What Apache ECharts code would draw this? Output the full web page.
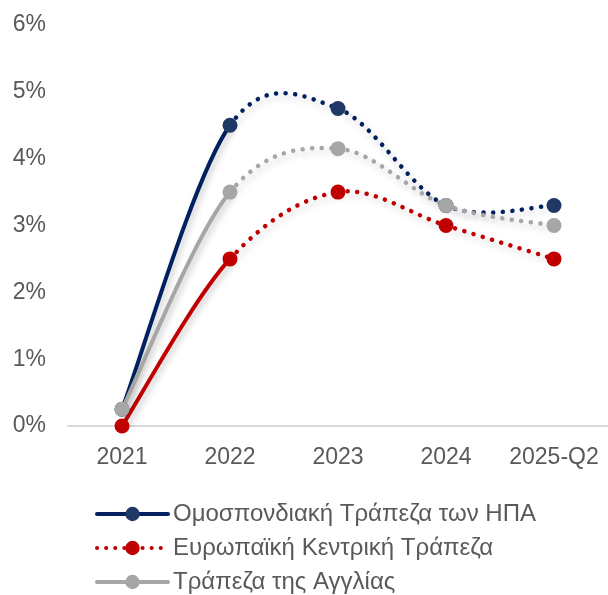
<!DOCTYPE html>
<html>
<head>
<meta charset="utf-8">
<script src="https://cdn.jsdelivr.net/npm/echarts@6/dist/echarts.min.js"></script>
<style>
  html, body { margin: 0; padding: 0; background: #fff; }
  #chart { width: 608px; height: 595px; }
</style>
</head>
<body>
<div id="chart"></div>
<script>
// categories and rates (%)
const years = ['2021', '2022', '2023', '2024', '2025-Q2'];
const fedRates = [0.25, 4.5, 4.75, 3.3, 3.3];
const ecbRates = [0, 2.5, 3.5, 3.0, 2.5];
const boeRates = [0.25, 3.5, 4.15, 3.3, 3.0];
const yTicks = [0, 1, 2, 3, 4, 5, 6];

const banks = [
  { name: 'Ομοσπονδιακή Τράπεζα των ΗΠΑ', data: fedRates, color: '#002060', dot: '#1F3864', legendType: 'solid' },
  { name: 'Ευρωπαϊκή Κεντρική Τράπεζα', data: ecbRates, color: '#C00000', dot: '#C00000', legendType: [0.1, 9] },
  { name: 'Τράπεζα της Αγγλίας', data: boeRates, color: '#A6A6A6', dot: '#A6A6A6', legendType: 'solid' }
];

const FONT = 'Liberation Sans, Arial, sans-serif';

// smoothed line like the spreadsheet one (catmull-rom in pixel space),
// first segment solid, the rest dotted
function curveSeries(b) {
  return {
    type: 'custom',
    silent: true,
    z: 2,
    data: b.data.slice(0, -1).map((v, i) => [i, v]),
    renderItem: function (params, api) {
      const i = api.value(0);
      const pts = b.data.map((v, k) => api.coord([k, v]));
      const p0 = pts[Math.max(i - 1, 0)];
      const p1 = pts[i];
      const p2 = pts[i + 1];
      const p3 = pts[Math.min(i + 2, pts.length - 1)];
      const dotted = i > 0;
      return {
        type: 'bezierCurve',
        shape: {
          x1: p1[0], y1: p1[1],
          x2: p2[0], y2: p2[1],
          cpx1: p1[0] + (p2[0] - p0[0]) / 6,
          cpy1: p1[1] + (p2[1] - p0[1]) / 6,
          cpx2: p2[0] - (p3[0] - p1[0]) / 6,
          cpy2: p2[1] - (p3[1] - p1[1]) / 6
        },
        style: {
          fill: null,
          stroke: b.color,
          lineWidth: dotted ? 4.5 : 4,
          lineCap: 'round',
          lineDash: dotted ? [0.1, 9.5] : null,
          shadowBlur: 6,
          shadowColor: 'rgba(0,0,0,0.22)',
          shadowOffsetX: 2,
          shadowOffsetY: 4
        }
      };
    }
  };
}

// markers (and legend entry)
function markerSeries(b) {
  return {
    name: b.name,
    type: 'line',
    data: b.data,
    symbol: 'circle',
    symbolSize: 15,
    z: 3,
    itemStyle: { color: b.dot },
    lineStyle: { width: 4, color: b.color, opacity: 0 }
  };
}

const series = banks.map(curveSeries).concat(banks.map(markerSeries));

const myChart = echarts.init(document.getElementById('chart'));
myChart.setOption({
  animation: false,
  grid: { left: 68, top: 25, width: 542, bottom: 169 },
  legend: {
    orient: 'vertical',
    left: 90,
    top: 497,
    height: 96,
    itemWidth: 71,
    itemHeight: 18,
    itemGap: 10,
    textStyle: { fontFamily: FONT, fontSize: 24, lineHeight: 24, color: '#595959' },
    data: banks.map(b => ({
      name: b.name,
      itemStyle: { color: b.dot },
      lineStyle: { color: b.color, width: 4, opacity: 1, type: b.legendType, cap: 'round' }
    }))
  },
  xAxis: {
    type: 'category',
    data: years,
    axisTick: { show: false },
    axisLine: { lineStyle: { color: '#D9D9D9', width: 2 } },
    axisLabel: { interval: 0, margin: 20, fontFamily: FONT, fontSize: 23, color: '#595959' }
  },
  yAxis: {
    type: 'value',
    min: yTicks[0],
    max: yTicks[yTicks.length - 1],
    interval: 1,
    splitLine: { show: false },
    axisLine: { show: false },
    axisTick: { show: false },
    axisLabel: { margin: 22, formatter: '{value}%', fontFamily: FONT, fontSize: 23, color: '#595959' }
  },
  series: series
});
</script>
</body>
</html>
